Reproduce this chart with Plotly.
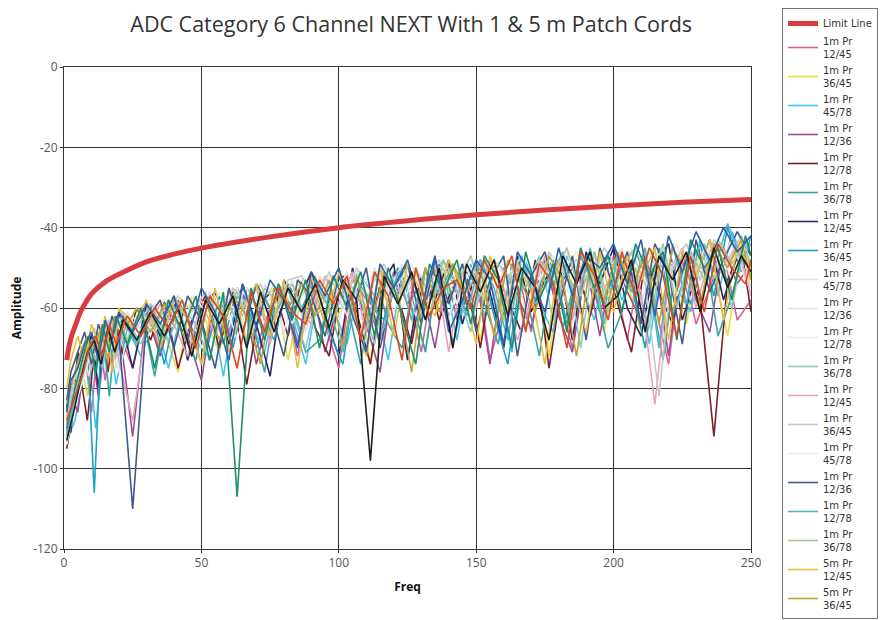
import plotly.graph_objects as go

# ---------------- data ----------------
# three sampling grids (MHz) used by the swept measurements
freq_a = [1, 2.5, 5, 7.5, 10, 12.5, 15, 17.5, 20, 25, 30,
          35, 40, 45, 50, 55, 60, 65, 70, 75, 80, 85,
          90, 95, 100, 105, 110, 115, 120, 125, 130, 135, 140,
          145, 150, 155, 160, 165, 170, 175, 180, 185, 190, 195,
          200, 205, 210, 215, 220, 225, 230, 235, 240, 245, 250]
freq_b = [1, 3.5, 6, 8.5, 11, 13.5, 16, 18.5, 21.5, 26.5, 31.5,
          36.5, 41.5, 46.5, 51.5, 56.5, 61.5, 66.5, 71.5, 76.5, 81.5, 86.5,
          91.5, 96.5, 101.5, 106.5, 111.5, 116.5, 121.5, 126.5, 131.5, 136.5, 141.5,
          146.5, 151.5, 156.5, 161.5, 166.5, 171.5, 176.5, 181.5, 186.5, 191.5, 196.5,
          201.5, 206.5, 211.5, 216.5, 221.5, 226.5, 231.5, 236.5, 241.5, 246.5, 250]
freq_c = [1, 4, 7, 9, 11.5, 14, 16.5, 19, 23, 28, 33,
          38, 43, 48, 53, 58, 63, 68, 73, 78, 83, 88,
          93, 98, 103, 108, 113, 118, 123, 128, 133, 138, 143,
          148, 153, 158, 163, 168, 173, 178, 183, 188, 193, 198,
          203, 208, 213, 218, 223, 228, 233, 238, 243, 248, 250]

limit_freq = [1, 2, 3, 4, 6, 8, 10, 15, 20, 30, 40, 50, 75, 100, 125, 150, 175, 200, 225, 250]
limit_db = [-73, -69, -66.5, -64.6, -61, -58.5, -56.5, -53.5, -51.6, -48.5, -46.6,
            -45.1, -42.3, -40, -38.3, -36.8, -35.6, -34.6, -33.7, -33]

x_ticks = [0, 50, 100, 150, 200, 250]
y_ticks = [0, -20, -40, -60, -80, -100, -120]
y_tick_text = ["0", "-20", "-40", "-60", "-80", "-100", "-120"]

s01 = [-91, -84, -80, -70, -86, -67, -78, -63, -66, -75, -60,
       -71, -58, -62, -74, -57, -66, -55, -70, -60, -56, -72,
       -53, -64, -75, -52, -58, -68, -51, -55, -71, -50, -62,
       -56, -49, -73, -60, -50, -66, -48, -57, -70, -49, -61,
       -52, -68, -47, -59, -74, -48, -64, -55, -46, -63, -58]
s02 = [-86, -78, -73, -82, -68, -75, -64, -72, -61, -70, -59,
       -66, -76, -57, -63, -71, -55, -68, -60, -54, -73, -57,
       -52, -67, -59, -51, -74, -56, -50, -63, -70, -49, -58,
       -53, -68, -48, -61, -55, -49, -72, -50, -58, -47, -66,
       -48, -57, -70, -46, -53, -64, -45, -51, -67, -44, -55]
s03 = [-93, -88, -77, -71, -90, -74, -68, -79, -65, -72, -62,
       -75, -60, -68, -58, -77, -57, -64, -71, -55, -62, -74,
       -54, -60, -69, -52, -57, -73, -51, -65, -56, -50, -68,
       -49, -62, -55, -71, -48, -59, -66, -47, -54, -63, -46,
       -58, -50, -69, -46, -55, -61, -44, -57, -41, -49, -46]
s04 = [-89, -81, -86, -73, -69, -82, -66, -74, -64, -92, -61,
       -72, -59, -67, -78, -57, -63, -56, -74, -60, -55, -69,
       -53, -71, -58, -52, -64, -76, -51, -59, -54, -70, -49,
       -60, -52, -74, -50, -57, -65, -48, -62, -71, -49, -67,
       -47, -56, -63, -48, -72, -46, -58, -66, -45, -54, -49]
s05 = [-95, -85, -77, -88, -71, -66, -76, -63, -72, -60, -68,
       -58, -75, -63, -57, -70, -56, -79, -59, -55, -67, -53,
       -65, -72, -52, -61, -74, -51, -57, -69, -50, -63, -55,
       -51, -70, -49, -58, -66, -48, -75, -53, -49, -62, -47,
       -59, -71, -48, -56, -64, -47, -58, -92, -53, -45, -61]
s06 = [-87, -80, -74, -68, -77, -65, -82, -63, -70, -60, -77,
       -58, -66, -73, -56, -69, -55, -62, -76, -54, -60, -71,
       -68, -52, -59, -74, -51, -64, -70, -50, -57, -48, -63,
       -52, -59, -69, -49, -56, -72, -48, -64, -47, -55, -70,
       -61, -46, -54, -73, -47, -59, -45, -67, -57, -44, -52]
s07 = [-84, -91, -71, -76, -66, -80, -64, -70, -61, -75, -59,
       -67, -57, -73, -60, -56, -69, -54, -64, -77, -53, -59,
       -51, -62, -72, -50, -66, -55, -49, -73, -52, -58, -48,
       -64, -50, -56, -70, -47, -61, -53, -48, -68, -46, -54,
       -45, -60, -67, -49, -44, -63, -52, -43, -58, -47, -50]
s08 = [-91, -83, -75, -69, -106, -68, -64, -73, -62, -68, -59,
       -74, -58, -65, -72, -57, -70, -55, -61, -68, -54, -60,
       -53, -66, -74, -51, -59, -63, -50, -57, -71, -49, -69,
       -55, -48, -62, -74, -50, -58, -47, -65, -52, -46, -59,
       -48, -54, -70, -45, -62, -51, -44, -57, -40, -51, -42]
s09 = [-88, -80, -71, -77, -66, -70, -63, -75, -61, -67, -59,
       -64, -58, -70, -56, -62, -55, -67, -54, -61, -53, -66,
       -52, -58, -51, -63, -50, -56, -49, -62, -51, -55, -48,
       -59, -49, -54, -47, -61, -48, -53, -46, -57, -47, -52,
       -45, -56, -46, -51, -44, -58, -45, -50, -43, -53, -44]
s10 = [-93, -85, -79, -71, -73, -67, -70, -64, -76, -62, -68,
       -60, -65, -59, -70, -57, -63, -56, -60, -55, -66, -53,
       -59, -52, -63, -51, -57, -50, -61, -52, -55, -49, -63,
       -50, -56, -48, -61, -49, -55, -47, -59, -48, -53, -46,
       -54, -47, -59, -46, -52, -45, -56, -44, -50, -46, -55]
s11 = [-87, -78, -75, -68, -71, -64, -67, -62, -65, -60, -64,
       -58, -62, -57, -66, -56, -60, -55, -64, -54, -58, -53,
       -61, -52, -56, -51, -60, -50, -54, -49, -58, -50, -53,
       -48, -57, -49, -52, -47, -56, -48, -51, -46, -55, -47,
       -50, -45, -54, -46, -49, -44, -53, -45, -48, -43, -51]
s12 = [-91, -83, -77, -72, -69, -75, -66, -72, -63, -69, -61,
       -68, -60, -64, -73, -57, -63, -56, -67, -55, -61, -70,
       -54, -63, -53, -58, -69, -51, -57, -50, -62, -49, -56,
       -66, -48, -61, -52, -55, -47, -63, -49, -70, -46, -58,
       -47, -53, -65, -45, -57, -46, -51, -44, -60, -43, -49]
s13 = [-89, -81, -78, -70, -75, -66, -70, -63, -73, -88, -65,
       -59, -64, -72, -58, -67, -56, -62, -55, -69, -54, -60,
       -64, -52, -59, -51, -66, -50, -57, -53, -61, -49, -71,
       -51, -60, -48, -55, -68, -58, -47, -53, -63, -48, -57,
       -51, -49, -56, -84, -53, -45, -60, -47, -52, -44, -57]
s14 = [-86, -79, -72, -68, -65, -71, -63, -67, -61, -65, -59,
       -63, -57, -61, -56, -66, -55, -59, -54, -63, -53, -52,
       -58, -51, -60, -50, -55, -49, -57, -51, -53, -48, -56,
       -49, -54, -48, -53, -47, -57, -46, -51, -48, -55, -45,
       -50, -46, -54, -82, -49, -44, -53, -43, -48, -42, -50]
s15 = [-94, -84, -78, -73, -70, -67, -72, -64, -68, -62, -66,
       -60, -64, -58, -62, -57, -68, -56, -60, -55, -64, -54,
       -58, -53, -62, -52, -56, -51, -60, -50, -55, -49, -59,
       -50, -54, -49, -58, -48, -53, -47, -56, -46, -52, -48,
       -55, -46, -51, -45, -57, -47, -50, -44, -53, -45, -48]
s16 = [-83, -76, -71, -66, -74, -64, -69, -62, -67, -110, -63,
       -58, -70, -57, -63, -75, -55, -66, -54, -60, -72, -53,
       -57, -67, -52, -61, -50, -70, -55, -49, -64, -48, -59,
       -49, -66, -53, -47, -72, -52, -46, -60, -47, -68, -45,
       -55, -46, -64, -44, -51, -69, -43, -56, -48, -41, -47]
s17 = [-92, -84, -76, -71, -67, -74, -65, -71, -63, -69, -61,
       -68, -59, -72, -58, -64, -57, -69, -56, -62, -55, -67,
       -54, -60, -71, -53, -58, -65, -51, -63, -50, -57, -49,
       -62, -48, -55, -68, -47, -59, -53, -46, -60, -45, -64,
       -47, -56, -45, -70, -44, -59, -43, -51, -39, -48, -44]
s18 = [-87, -80, -74, -69, -73, -65, -70, -62, -68, -60, -65,
       -58, -63, -70, -57, -61, -56, -66, -55, -59, -54, -63,
       -61, -52, -57, -66, -51, -59, -50, -55, -62, -48, -54,
       -47, -58, -49, -53, -65, -48, -52, -45, -57, -46, -61,
       -50, -45, -55, -44, -60, -46, -53, -43, -49, -44, -52]
s19 = [-80, -73, -67, -73, -64, -69, -62, -76, -60, -65, -58,
       -70, -57, -63, -74, -55, -71, -60, -54, -67, -53, -75,
       -52, -64, -51, -58, -72, -50, -67, -49, -56, -62, -48,
       -55, -69, -47, -63, -49, -56, -74, -48, -54, -66, -46,
       -61, -47, -53, -45, -68, -46, -52, -43, -63, -45, -50]
s20 = [-84, -77, -71, -67, -70, -65, -73, -62, -66, -60, -66,
       -59, -64, -71, -58, -68, -57, -62, -74, -55, -60, -54,
       -62, -53, -70, -52, -65, -51, -57, -76, -50, -61, -49,
       -56, -50, -67, -48, -54, -61, -47, -53, -72, -49, -58,
       -46, -55, -47, -64, -45, -51, -59, -44, -50, -43, -53]
s21 = [-90, -80, -72, -67, -76, -64, -71, -62, -69, -60, -75,
       -58, -66, -57, -73, -56, -107, -55, -68, -54, -63, -53,
       -70, -52, -60, -51, -67, -50, -62, -74, -49, -56, -48,
       -64, -47, -53, -70, -46, -58, -49, -66, -45, -55, -47,
       -61, -44, -52, -46, -68, -43, -50, -45, -58, -42, -47]
s22 = [-86, -78, -75, -69, -66, -73, -63, -68, -61, -66, -59,
       -64, -57, -68, -55, -61, -73, -54, -65, -53, -58, -70,
       -51, -57, -50, -62, -71, -49, -55, -48, -60, -47, -66,
       -58, -48, -53, -69, -46, -52, -61, -45, -57, -47, -50,
       -44, -54, -43, -62, -42, -51, -41, -48, -40, -46, -42]
s23 = [-93, -86, -78, -71, -68, -74, -65, -71, -63, -68, -61,
       -67, -60, -72, -58, -64, -57, -70, -56, -66, -55, -61,
       -54, -65, -53, -58, -98, -52, -59, -51, -63, -50, -70,
       -49, -56, -48, -62, -50, -55, -68, -47, -54, -46, -60,
       -57, -48, -66, -47, -53, -46, -61, -45, -55, -47, -51]
s24 = [-88, -82, -76, -70, -67, -72, -64, -69, -62, -67, -60,
       -65, -58, -70, -57, -62, -75, -56, -66, -55, -61, -64,
       -53, -59, -52, -68, -51, -57, -73, -50, -62, -55, -53,
       -60, -48, -55, -47, -66, -49, -54, -70, -46, -52, -63,
       -46, -57, -45, -52, -67, -47, -61, -44, -50, -54, -48]

series_names = ["1m Pr<br>12/45", "1m Pr<br>36/45", "1m Pr<br>45/78", "1m Pr<br>12/36",
                "1m Pr<br>12/78", "1m Pr<br>36/78", "1m Pr<br>12/45", "1m Pr<br>36/45",
                "1m Pr<br>45/78", "1m Pr<br>12/36", "1m Pr<br>12/78", "1m Pr<br>36/78",
                "1m Pr<br>12/45", "1m Pr<br>36/45", "1m Pr<br>45/78", "1m Pr<br>12/36",
                "1m Pr<br>12/78", "1m Pr<br>36/78", "5m Pr<br>12/45", "5m Pr<br>36/45",
                "5m Pr<br>45/78", "5m Pr<br>12/36", "5m Pr<br>12/78", "5m Pr<br>36/78"]
series_values = [s01, s02, s03, s04, s05, s06, s07, s08, s09, s10, s11, s12,
                 s13, s14, s15, s16, s17, s18, s19, s20, s21, s22, s23, s24]
series_freqs = [freq_a, freq_b, freq_c] * 8
series_colors = ["#d9609a", "#e6df3c", "#45c3f0", "#9a4d92", "#7a1f2a", "#3fa3a0",
                 "#2e2560", "#1fa2c2", "#f3dde4", "#e6e4f0", "#f0ebdf", "#8fcac2",
                 "#e9a3bb", "#c9c9c9", "#dff0f2", "#3f5a8c", "#57b3ca", "#a9c69a",
                 "#e9be3e", "#c2a232", "#1c9068", "#2a62b2", "#1e1e1e", "#d84b22"]
legend_count = 20

for fq, v in zip(series_freqs, series_values):
    assert len(v) == len(fq)

fig = go.Figure()
fig.add_trace(go.Scatter(x=limit_freq, y=limit_db, mode="lines", name="Limit Line",
                         line=dict(color="#d93b3f", width=5, shape="spline")))
for i, (nm, fq, vals, col) in enumerate(zip(series_names, series_freqs, series_values, series_colors)):
    fig.add_trace(go.Scatter(x=fq, y=vals, mode="lines", name=nm,
                             line=dict(color=col, width=1.6),
                             showlegend=i < legend_count))

# the page adds an 8 px body margin, so the figure is laid out 8 px up/left
fig.update_layout(
    width=894, height=620,
    paper_bgcolor="white", plot_bgcolor="white",
    margin=dict(l=56, r=151, t=59, b=79, autoexpand=False),
    font=dict(family="Open Sans, DejaVu Sans, sans-serif", color="#555555"),
    title=dict(text="ADC Category 6 Channel NEXT With 1 & 5 m Patch Cords",
               x=0.451, xanchor="center", y=0.985, yanchor="top",
               font=dict(size=21.5, color="#333333")),
    showlegend=True,
    legend=dict(x=(774 - 56) / 687, xref="paper", xanchor="left", y=1.0, yref="container", yanchor="top",
                bordercolor="#777777", borderwidth=1, bgcolor="white",
                font=dict(family="DejaVu Sans, sans-serif", size=10, color="#333333"),
                tracegroupgap=0, itemwidth=30, maxheight=1),
)
fig.update_xaxes(range=[0, 250], tickvals=x_ticks,
                 showgrid=True, gridcolor="#333333", gridwidth=1,
                 showline=True, linecolor="#333333", mirror=True,
                 ticks="outside", ticklen=3, tickcolor="#333333", automargin=False,
                 tickfont=dict(size=12, color="#555555"), zeroline=False,
                 title=dict(text="<b>Freq</b>", font=dict(size=12, color="#111111"), standoff=12))
fig.update_yaxes(range=[-120, 0], tickvals=y_ticks, ticktext=y_tick_text,
                 showgrid=True, gridcolor="#333333", gridwidth=1,
                 showline=True, linecolor="#333333", mirror=True,
                 ticks="outside", ticklen=3, tickcolor="#333333", automargin=False,
                 tickfont=dict(size=12, color="#555555"), zeroline=False,
                 title=dict(text="<b>Amplitude</b>", font=dict(size=12, color="#111111"), standoff=20))

fig.write_html("out.html")
